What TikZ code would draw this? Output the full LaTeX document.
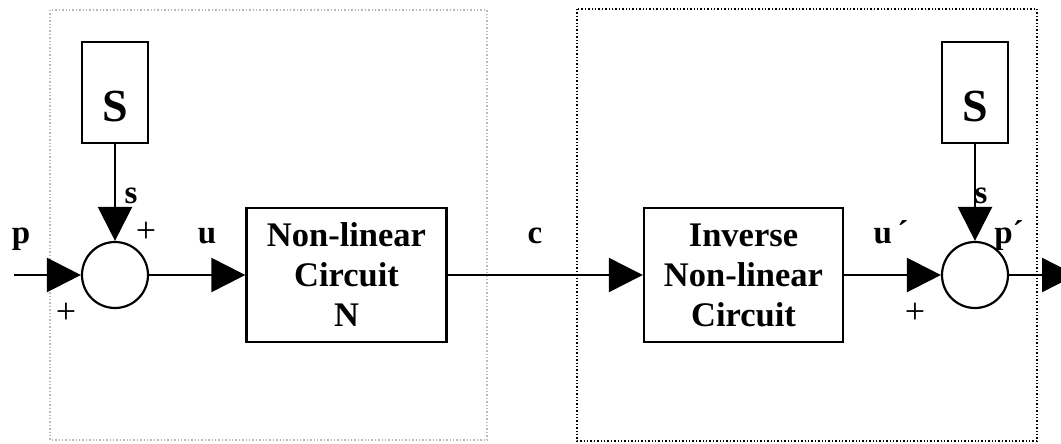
\documentclass[tikz,border=0pt]{standalone}
\usepackage{fontspec}
\setmainfont{Liberation Serif}
\usetikzlibrary{arrows.meta}
\begin{document}
\begin{tikzpicture}[x=1pt,y=-1pt,
  blk/.style={draw, line width=2.4pt, inner sep=0pt, align=center,
    font=\fontsize{34.5}{40}\selectfont\bfseries},
  sbox/.style={draw, line width=2.4pt, inner sep=0pt, minimum width=66pt, minimum height=101pt,
    font=\fontsize{46}{46}\selectfont\bfseries, text height=58pt, text depth=0pt},
  sumn/.style={draw, circle, line width=2.2pt, minimum size=66pt, inner sep=0pt},
  arr/.style={-{Triangle[length=34pt,width=34pt]}, line width=2.4pt},
  lbl/.style={font=\fontsize{33}{36}\selectfont\bfseries, inner sep=0pt, anchor=base},
  pl/.style={font=\fontsize{36}{36}\selectfont, inner sep=0pt}]
\clip (0,0) rectangle (1061,444);
\useasboundingbox (0,0) rectangle (1061,444);
\draw[gray!55, dotted, line width=1.4pt] (50,10) rectangle (487,440);
\draw[black, dotted, line width=1.4pt] (577,9) rectangle (1037,441);

\node[sbox] (S1) at (115,92.5) {S};
\node[sumn] (C1) at (115,275) {};
\node[blk, minimum width=200pt, minimum height=134pt] (N) at (346.5,275) {Non-linear\\Circuit\\N};
\node[blk, minimum width=199pt, minimum height=134pt] (I) at (743.5,275) {Inverse\\Non-linear\\Circuit};
\node[sumn] (C2) at (975,275) {};
\node[sbox] (S2) at (975,92.5) {S};
\coordinate (in) at (14,275);
\coordinate (out) at (1076,275);

\draw[arr] (in) -- (C1);
\draw[arr] (S1) -- (C1);
\draw[arr] (C1) -- (N);
\draw[arr] (N) -- (I);
\draw[arr] (I) -- (C2);
\draw[arr] (S2) -- (C2);
\draw[arr] (C2) -- (out);

\node[lbl] (lp) at (21,243) {p};
\node[lbl] (ls1) at (131,203) {s};
\node[lbl] (lu) at (207,243) {u};
\node[lbl] (lc) at (535,243) {c};
\node[lbl] (lu2) at (891,243) {u\,´};
\node[lbl] (ls2) at (981,203) {s};
\node[lbl] (lp2) at (1009,243) {p´};
\node[pl] (pl1) at (146,232) {+};
\node[pl] (pl2) at (66,313) {+};
\node[pl] (pl3) at (915,313) {+};
\end{tikzpicture}
\end{document}
